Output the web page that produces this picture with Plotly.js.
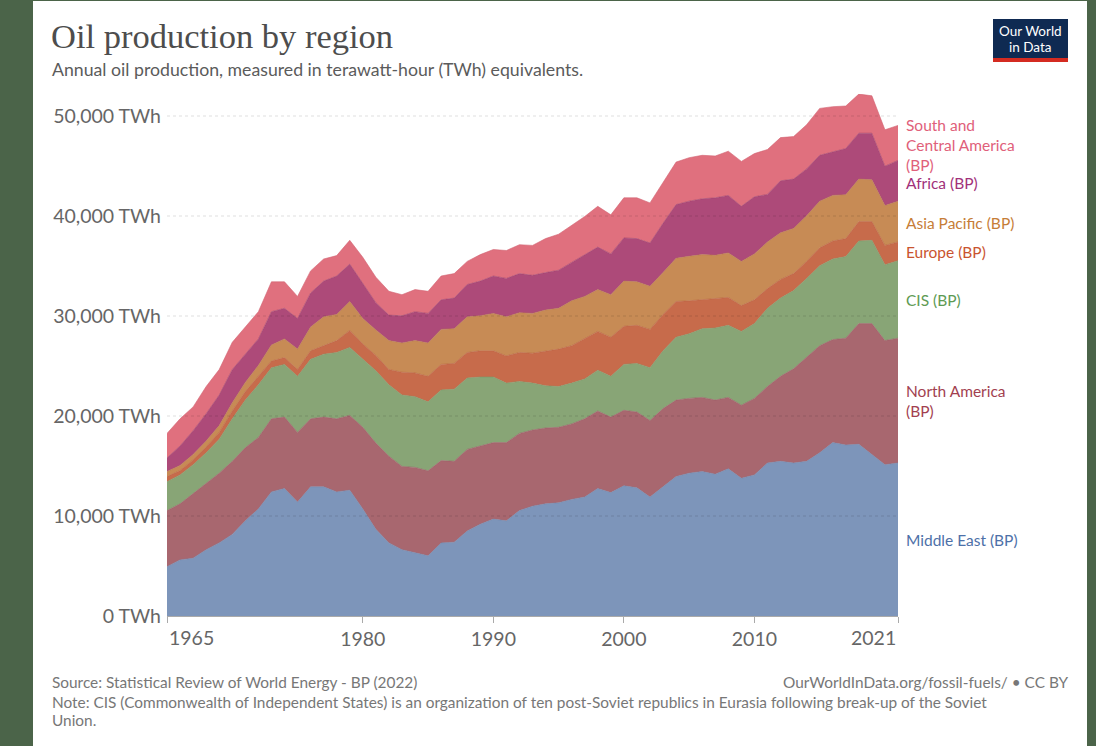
<!DOCTYPE html>
<html><head><meta charset="utf-8">
<script src="https://cdn.plot.ly/plotly-3.0.1.min.js"></script>
<style>
html,body{margin:0;padding:0;background:#4b6449;width:1096px;height:746px;overflow:hidden;}
#chart{position:absolute;left:33px;top:1px;width:1054px;height:745px;background:#fff;}
</style></head><body><div id="chart"></div>
<script>
const years = [1965,1966,1967,1968,1969,1970,1971,1972,1973,1974,1975,1976,1977,1978,1979,1980,1981,1982,1983,1984,1985,1986,1987,1988,1989,1990,1991,1992,1993,1994,1995,1996,1997,1998,1999,2000,2001,2002,2003,2004,2005,2006,2007,2008,2009,2010,2011,2012,2013,2014,2015,2016,2017,2018,2019,2020,2021];

const middleEast = [4930,5610,5780,6630,7310,8160,9520,10710,12410,12750,11390,12920,12920,12410,12580,10710,8670,7310,6630,6360,6020,7310,7380,8500,9180,9690,9520,10540,10980,11220,11320,11660,11900,12750,12340,13020,12820,11900,12920,13940,14280,14450,14180,14720,13770,14110,15300,15470,15300,15470,16320,17340,17100,17170,16150,15130,15300];
const northAmerica = [5610,5610,6460,6630,6970,7310,7310,7140,7310,7140,6970,6800,6970,7310,7480,8160,8620,8670,8330,8500,8500,8230,8090,8160,7820,7650,7820,7720,7620,7580,7550,7550,7820,7750,7550,7550,7580,7650,7820,7650,7480,7410,7410,7140,7310,7650,7650,8500,9420,10370,10710,10300,10680,12070,13090,12410,12480];
const cis = [2890,2890,2890,3060,3400,4250,4760,5270,5100,5270,5610,5950,6290,6630,6800,6800,7240,7140,7140,7070,6900,7070,7210,7140,6900,6560,5950,5200,4690,4220,4080,4080,3980,4080,4080,4590,4860,5270,5780,6290,6460,6870,7210,7210,7380,7480,7820,7820,7820,7920,7990,8060,8160,8260,8330,7580,7750];
const europe = [510,440,480,580,680,780,850,850,680,680,680,850,850,1190,1700,1530,1530,1530,2280,2380,2550,2550,2580,2550,2620,2620,2720,2890,2990,3500,3740,3740,4010,3880,3910,3810,3810,3840,3640,3570,3300,2890,2920,2790,2580,2380,1970,1870,1700,1700,1800,1800,1800,1940,1870,1940,1870];
const asiaPacific = [510,510,540,610,680,820,920,1090,1600,1870,2040,2380,2890,2620,2890,2550,2550,2890,2920,3230,3330,3500,3470,3570,3500,3740,3910,3980,3980,4080,4080,4490,4250,4180,4250,4520,4350,4320,4180,4320,4450,4520,4350,4450,4420,4590,4660,4660,4520,4560,4660,4560,4390,4250,4180,3980,4080];
const africa = [1360,1940,2380,2720,3060,3330,2820,2650,3330,3060,3060,3400,3570,3840,3740,3570,2720,2550,2720,2890,2960,2960,3060,3230,3470,3740,3840,3910,3810,3740,3810,3840,4180,4250,4080,4320,4320,4320,4930,5370,5510,5580,5750,5750,5510,5710,4760,5200,4930,4690,4590,4350,4620,4590,4660,3940,4080];
const southCentral = [2450,2720,2380,2720,2550,2720,2720,2720,2990,2650,2210,2210,2210,2040,2380,2550,2550,2380,2110,2210,2210,2380,2450,2310,2650,2650,2790,2890,2990,3400,3600,3740,3810,4080,3910,4010,4080,4010,4080,4250,4350,4350,4180,4420,4490,4320,4490,4320,4250,4420,4690,4520,4250,3910,3740,3640,3500];

const seriesNames = ["Middle East (BP)","North America (BP)","CIS (BP)","Europe (BP)","Asia Pacific (BP)","Africa (BP)","South and Central America (BP)"];
const seriesLabels = ["Middle East (BP)","North America<br>(BP)","CIS (BP)","Europe (BP)","Asia Pacific (BP)","Africa (BP)","South and<br>Central America<br>(BP)"];
const seriesValues = [middleEast, northAmerica, cis, europe, asiaPacific, africa, southCentral];
const fillColors = ["#7d95ba","#a8676f","#88a576","#c76b4b","#c78b55","#ad4a79","#e0707e"];
const lineColors = ["#6f87ad","#9a5b64","#7a9869","#b95f40","#b97e4a","#9e3f6c","#d26372"];
const labelColors = ["#4d70a8","#a23f50","#5e9a53","#c9542f","#c67d37","#a1317a","#e0607a"];

const yTicks = [0,10000,20000,30000,40000,50000];
const yTickText = ["0 TWh","10,000 TWh","20,000 TWh","30,000 TWh","40,000 TWh","50,000 TWh"];
const xTicks = [1965,1980,1990,2000,2010,2021];
const xTickText = ["","1980","1990","2000","2010",""];

// layout helpers: convert page pixel position to paper coordinates
const ML=134, MR=189, MT=93, MB=130, W=1054, H=745;
const PW=W-ML-MR, PH=H-MT-MB;
const px = X => (X-33-ML)/PW;
const py = Y => (H-MB-(Y-1))/PH;

const traces = seriesValues.map((v,i)=>({
  x: years, y: v, name: seriesNames[i], type:'scatter', mode:'lines',
  stackgroup:'one', fillcolor: fillColors[i],
  line:{color: lineColors[i], width:0.6}, hoverinfo:'skip'
}));

const font = 'Lato, "Open Sans", sans-serif';
const ann = [];
function txt(t,x,y,size,color,xa,fam){ann.push({text:t,x:px(x),y:py(y),xref:'paper',yref:'paper',xanchor:xa||'left',yanchor:'middle',align:xa==='right'?'right':(xa==='center'?'center':'left'),showarrow:false,font:{family:fam||font,size:size,color:color}});}

txt("Oil production by region",49,36,34.5,"#4d4d4d",'left','"Liberation Serif", "DejaVu Serif", serif');
txt("Annual oil production, measured in terawatt-hour (TWh) equivalents.",50,69,17.7,"#5b5b5b");

// right-side series labels
const labelY = [540,401,300,252,223,183,145];
seriesLabels.forEach((t,i)=>txt(t,904,labelY[i],15.5,labelColors[i]));

// end x tick labels
txt(String(xTicks[0]),167,637,19.5,"#666",'left');
txt(String(xTicks[xTicks.length-1]),898,637,19.5,"#666",'right');

// footer
txt("Source: Statistical Review of World Energy - BP (2022)",50,682,15.4,"#777");
txt("OurWorldInData.org/fossil-fuels/ • CC BY",1070,682,15.4,"#777",'right');
txt("Note: CIS (Commonwealth of Independent States) is an organization of ten post-Soviet republics in Eurasia following break-up of the Soviet",50,702,15.4,"#777");
txt("Union.",50,720,15.4,"#777");

// logo text
txt("Our World",1030,31,13.5,"#ffffff",'center');
txt("in Data",1030,47,13.5,"#ffffff",'center');

const shapes = [];
yTicks.slice(1).forEach(v=>shapes.push({type:'line',xref:'paper',yref:'y',x0:0,x1:1,y0:v,y1:v,layer:'above',line:{color:'rgba(0,0,0,0.13)',width:1,dash:'3px,3px'}}));
shapes.push({type:'rect',xref:'paper',yref:'paper',x0:px(993),x1:px(1068),y0:py(58),y1:py(19),fillcolor:'#0f2a52',line:{width:0},layer:'above'});
shapes.push({type:'rect',xref:'paper',yref:'paper',x0:px(993),x1:px(1068),y0:py(62),y1:py(58),fillcolor:'#d42b21',line:{width:0},layer:'above'});

const layout = {
  width:W, height:H, margin:{l:ML,r:MR,t:MT,b:MB,pad:0},
  paper_bgcolor:'#ffffff', plot_bgcolor:'rgba(0,0,0,0)',
  showlegend:false, hovermode:false,
  font:{family:font,color:'#666'},
  xaxis:{range:[1965,2021], tickvals:xTicks, ticktext:xTickText, ticks:'outside', ticklen:6, tickcolor:'#aaa',
         showline:true, linecolor:'#aaa', linewidth:1, showgrid:false, zeroline:false,
         tickfont:{size:19.5,color:'#666'}, fixedrange:true},
  yaxis:{range:[0,52200], tickvals:yTicks, ticktext:yTickText, showgrid:false, zeroline:false,
         showline:false, ticks:'', tickfont:{size:19.5,color:'#666'}, ticklabelstandoff:5, fixedrange:true},
  shapes:shapes, annotations:ann
};
Plotly.newPlot('chart', traces, layout, {staticPlot:true, displayModeBar:false});
</script></body></html>
